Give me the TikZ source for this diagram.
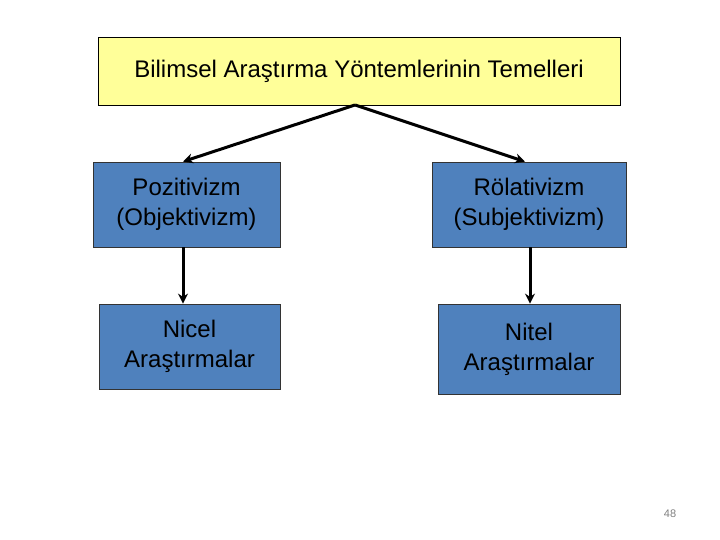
\documentclass[tikz,border=0pt]{standalone}
\usepackage{fontspec}
\setmainfont{Liberation Sans}
\usetikzlibrary{arrows.meta}
\definecolor{boxblue}{HTML}{4F81BD}
\definecolor{boxyellow}{HTML}{FFFF99}
\tikzset{
  bluebox/.style={draw=black!80, line width=0.8pt, fill=boxblue, align=center, inner sep=0pt,
    font=\fontsize{24}{30}\selectfont, text=black},
  conn/.style={line width=3pt, -{Stealth[length=10pt,width=10pt]}},
}
\begin{document}
\begin{tikzpicture}[x=1pt,y=-1pt]
\useasboundingbox (0,0) rectangle (720,540);
\node[draw=black, line width=0.8pt, fill=boxyellow, minimum width=522pt, minimum height=68pt, inner sep=0pt,
  font=\fontsize{24}{30}\selectfont] (top) at (359,71) {Bilimsel Araştırma Yöntemlerinin Temelleri};
\node[bluebox, minimum width=187pt, minimum height=85pt] (l1) at (186.5,204.5) {Pozitivizm\\(Objektivizm)};
\node[bluebox, minimum width=194pt, minimum height=85pt] (r1) at (529,204.5) {Rölativizm\\(Subjektivizm)};
\node[bluebox, minimum width=181pt, minimum height=85pt] (l2) at (189.5,346.5) {Nicel\\Araştırmalar};
\node[bluebox, minimum width=182pt, minimum height=90pt] (r2) at (529,349) {Nitel\\Araştırmalar};
\coordinate (t) at (355,105);
\draw[conn] (t) -- ([xshift=-3.5pt]l1.north);
\draw[conn] (t) -- ([xshift=-4pt]r1.north);
\draw[conn] ([xshift=-3.5pt]l1.south) -- ([xshift=-6.5pt]l2.north);
\draw[conn] ([xshift=1pt]r1.south) -- ([xshift=1pt]r2.north);
\node[text=black!50, font=\fontsize{11}{12}\selectfont] (pg) at (670,514) {48};
\end{tikzpicture}
\end{document}
